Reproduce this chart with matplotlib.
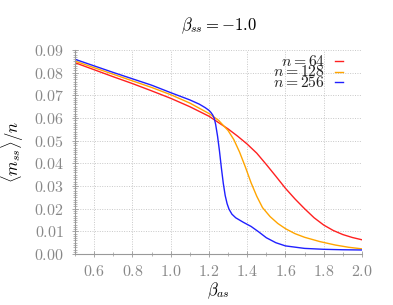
import matplotlib
matplotlib.use("Agg")
import matplotlib.pyplot as plt
from matplotlib.ticker import MultipleLocator, FormatStrFormatter

plt.rcParams['mathtext.fontset'] = 'cm'
plt.rcParams['font.family'] = 'serif'
plt.rcParams['font.serif'] = ['cmr10', 'DejaVu Serif']
plt.rcParams['axes.formatter.use_mathtext'] = True

x_256 = [0.5, 0.6, 0.7, 0.8, 0.9, 1.0, 1.1, 1.15, 1.18, 1.2, 1.21, 1.22, 1.228,
         1.235, 1.245, 1.255, 1.265, 1.275, 1.285, 1.295, 1.305, 1.32, 1.34,
         1.38, 1.42, 1.46, 1.50, 1.55, 1.60, 1.70, 1.80, 1.90, 2.00]
y_256 = [0.0859, 0.0830, 0.0801, 0.0773, 0.0745, 0.0712, 0.0680, 0.0661, 0.0646,
         0.0634, 0.0625, 0.0613, 0.0598, 0.0572, 0.0520, 0.0455, 0.0380, 0.0312,
         0.0258, 0.0222, 0.0198, 0.0176, 0.0160, 0.0140, 0.0122, 0.0098, 0.0072,
         0.0050, 0.0036, 0.0025, 0.0021, 0.0019, 0.0018]

x_128 = [0.5, 0.6, 0.7, 0.8, 0.9, 1.0, 1.1, 1.2, 1.25, 1.3, 1.33, 1.36, 1.39, 1.42,
         1.45, 1.48, 1.52, 1.56, 1.60, 1.65, 1.70, 1.78, 1.86, 1.93, 2.00]
y_128 = [0.0851, 0.0822, 0.0793, 0.0764, 0.0735, 0.0703, 0.0666, 0.0620, 0.0590,
         0.0545, 0.0505, 0.0450, 0.0385, 0.0315, 0.0255, 0.0205, 0.0165, 0.0135,
         0.0112, 0.0090, 0.0074, 0.0055, 0.0040, 0.0030, 0.0023]

x_64 = [0.5, 0.6, 0.7, 0.8, 0.9, 1.0, 1.1, 1.2, 1.3, 1.35, 1.4, 1.45, 1.5, 1.55,
        1.6, 1.65, 1.7, 1.75, 1.8, 1.85, 1.9, 1.95, 2.0]
y_64 = [0.0844, 0.0813, 0.0782, 0.0752, 0.0720, 0.0687, 0.0650, 0.0608, 0.0552,
        0.0520, 0.0485, 0.0445, 0.0395, 0.0343, 0.0290, 0.0243, 0.0200, 0.0160,
        0.0128, 0.0104, 0.0086, 0.0073, 0.0063]

labels = [r'$n = 64$', r'$n = 128$', r'$n = 256$']
colors = ['#ff2020', '#ffa500', '#2020ff']

fig = plt.figure(figsize=(3.93, 3.05), dpi=100)
ax = fig.add_axes([0.191, 0.167, 0.730, 0.669])

series = [(x_64, y_64), (x_128, y_128), (x_256, y_256)]
for (xs, ys), c, lab in zip(series, colors, labels):
    ax.plot(xs, ys, color=c, lw=1.0, label=lab)

ax.set_xlim(0.5, 2.0)
ax.set_ylim(0.0, 0.09)
ax.xaxis.set_major_locator(MultipleLocator(0.2))
ax.xaxis.set_minor_locator(MultipleLocator(0.1))
ax.yaxis.set_major_locator(MultipleLocator(0.01))
ax.yaxis.set_minor_locator(MultipleLocator(0.001))
ax.xaxis.set_major_formatter(FormatStrFormatter(r'$%.1f$'))
ax.yaxis.set_major_formatter(FormatStrFormatter(r'$%.2f$'))

ax.grid(True, which='major', color='#c8c8c8', linestyle=(0, (1, 1.5)), lw=0.7)
for s in ['top', 'right']:
    ax.spines[s].set_visible(False)
for s in ['left', 'bottom']:
    ax.spines[s].set_color('#999999')
    ax.spines[s].set_linewidth(0.8)
ax.tick_params(which='both', colors='#999999', labelcolor='#888888', labelsize=11.5,
               direction='inout')
ax.tick_params(which='major', length=4, width=0.6)
ax.tick_params(which='minor', length=2.5, width=0.5)
ax.tick_params(axis='y', pad=6)
ax.tick_params(axis='x', pad=5)

ax.set_xlabel(r'$\beta_{as}$', fontsize=12, labelpad=1)
ax.set_ylabel(r'$\langle m_{ss}\rangle / n$', fontsize=12, labelpad=6)
ax.set_title(r'$\beta_{ss} = -1.0$', fontsize=12, pad=14)

# legend: right-aligned labels followed by short line samples
row_y = [0.944, 0.893, 0.841]
for lab, c, yy in zip(labels, colors, row_y):
    ax.text(0.871, yy - 0.022, lab, transform=ax.transAxes, ha='right',
            va='baseline', fontsize=11.3, color='#222222')
    ax.plot([0.906, 0.934], [yy, yy], transform=ax.transAxes, color=c, lw=1.0,
            clip_on=False)

fig.savefig('out.png', dpi=100)
